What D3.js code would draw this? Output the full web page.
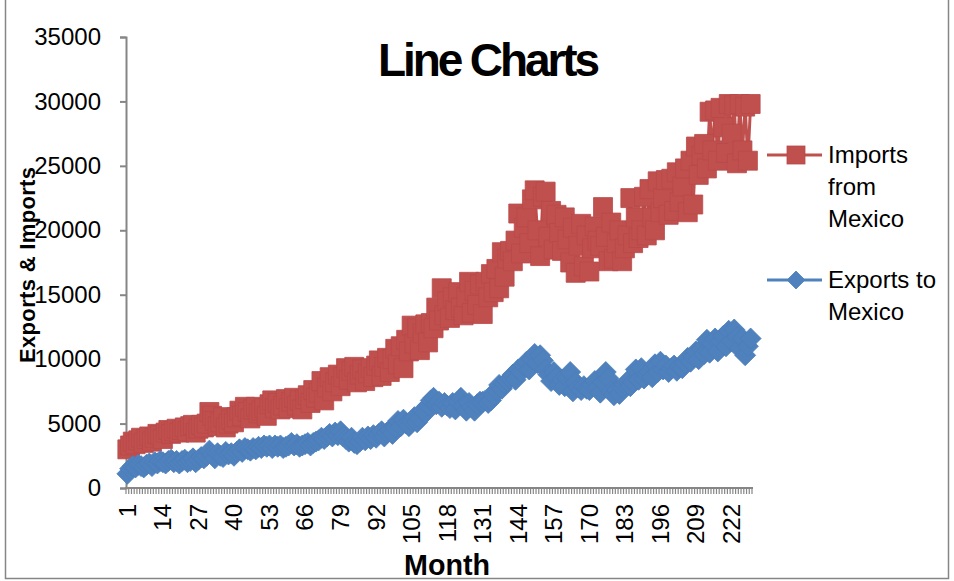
<!DOCTYPE html>
<html>
<head>
<meta charset="utf-8">
<script src="https://cdn.jsdelivr.net/npm/d3@7"></script>
<style>
  html, body { margin: 0; padding: 0; background: #fff; }
  svg { display: block; }
  text { font-family: "Liberation Sans", Arial, sans-serif; }
</style>
</head>
<body>
<svg id="chart" width="954" height="581"></svg>
<script>
// ---- Data ----
const seriesNames = ["Imports from Mexico", "Exports to Mexico"];

const imports = [
  3000, 3300, 3600, 3400, 3700, 3900, 3500, 3800, 4000, 3600,
  3900, 4200, 4100, 3800, 4300, 4500, 4200, 4400, 4600, 4300,
  4500, 4700, 4400, 4800, 4900, 4300, 4600, 4900, 4700, 5000,
  5900, 5600, 5200, 4800, 5100, 5500, 4700, 5000, 5300, 5100,
  5500, 6000, 5600, 6300, 5900, 5400, 6100, 6300, 5800, 6000,
  6200, 5600, 6500, 6800, 6200, 6600, 6100, 6400, 6900, 6200,
  6700, 7000, 6400, 6800, 6100, 6900, 7200, 6600, 7600, 7000,
  7400, 8300, 6800, 7800, 8600, 7500, 8200, 8800, 7900, 8600,
  9300, 8400, 9100, 9400, 8200, 8800, 9200, 8300, 8900, 9300,
  8600, 9500, 9900, 8700, 9400, 10100, 9000, 10000, 10800, 9600,
  11000, 9300, 11500, 10600, 12600, 11200, 12400, 10700, 12000, 12700,
  11300, 12800, 12400, 14000, 13000, 15500, 13400, 14500, 13200, 14800,
  13800, 15200, 14000, 13400, 14800, 16000, 13600, 15300, 14200, 15800,
  13500, 16000, 14800, 16600, 15200, 17000, 15500, 18300, 16400, 17800,
  18400, 17600, 19200, 21300, 18200, 20200, 21000, 19000, 22400, 23100,
  20000, 18000, 22600, 23000, 19500, 21500, 18500, 21200, 19800, 18400,
  21000, 19300, 17500, 20200, 16700, 18800, 20500, 17200, 19600, 16800,
  18600, 20300, 19200, 18800, 21800, 19500, 17600, 20600, 17800, 19000,
  20000, 17600, 18600, 19600, 22500, 19000, 21000, 19400, 20000, 22600,
  19600, 23200, 21000, 20000, 23800, 21400, 22500, 23900, 21200, 24000,
  21500, 24500, 22200, 23400, 24800, 21400, 25400, 22000, 26500, 24300,
  25800, 26700, 24800, 29200, 26200, 29300, 25400, 29500, 28000, 26000,
  29800, 27500, 29700, 25200, 29800, 26200, 29600, 25400, 29800
];

const exportsMx = [
  1100, 1500, 1700, 1600, 1800, 1700, 1600, 1800, 1900, 1700,
  2000, 1900, 2100, 2000, 1900, 2100, 2200, 2000, 2100, 1900,
  2100, 2200, 2000, 2100, 2300, 2000, 2200, 2400, 2300, 2500,
  2900, 2600, 2300, 2700, 2500, 2400, 2800, 2600, 2700, 2500,
  2800, 3000, 2800, 3100, 3000, 2900, 3100, 3000, 3200, 3100,
  3300, 3200, 3300, 3100, 3300, 3200, 3300, 3100, 3200, 3300,
  3500, 3300, 3400, 3200, 3300, 3400, 3500, 3300, 3500, 3600,
  3700, 3900, 3800, 4000, 4200, 4000, 4300, 4100, 4400, 4000,
  3800, 3600, 3900, 3500, 3400, 3600, 3900, 3700, 4000, 3800,
  4100, 3900, 4200, 4400, 4000, 4300, 4500, 4200, 4700, 5200,
  4800, 5300, 5000, 4800, 5200, 5500, 5100, 5400, 6000, 5800,
  6400, 6800, 7000, 6500, 6700, 6300, 6600, 6400, 6200, 6600,
  6100, 6700, 7000, 6400, 6000, 6600, 6300, 6000, 6500, 6700,
  6700, 6800, 6600, 6800, 7200, 7600, 8000, 7700, 8100, 8300,
  8500, 8800, 8400, 9200, 9000, 9500, 9800, 9200, 10000, 10400,
  9700, 10300, 9900, 9200, 8800, 8300, 9000, 8600, 8000, 8400,
  7900, 8500, 9000, 7500, 8200, 7800, 7600, 7900, 7700, 7600,
  8000, 8300, 7800, 7400, 8200, 9000, 8500, 7500, 7200, 7600,
  7300, 7800, 8000, 8300, 7900, 8200, 9200, 8400, 9300, 8500,
  8800, 9000, 8600, 9600, 9000, 9800, 9200, 9500, 9000, 9300,
  9500, 9100, 9400, 9300, 9700, 10100, 9800, 10200, 10600, 10000,
  10800, 10400, 11500, 10500, 11200, 11600, 10600, 11400, 11800, 11000,
  12200, 11400, 12300, 11700, 10800, 11600, 10300, 11000, 11600
];

const months = imports.map((_, i) => i + 1);
const xTickLabels = [1, 14, 27, 40, 53, 66, 79, 92, 105, 118, 131, 144, 157, 170, 183, 196, 209, 222];
const yTicks = [0, 5000, 10000, 15000, 20000, 25000, 30000, 35000];

// ---- Layout ----
const svg = d3.select("#chart");
const plot = { left: 126, right: 752, top: 37, bottom: 488 };
const axisColor = "#868686";
const red = "#C0504D", redEdge = "#B9494A";
const blue = "#4F81BD", blueEdge = "#4A7EBB";

// outer border
svg.append("rect")
  .attr("x", 5.5).attr("y", -2).attr("width", 943).attr("height", 580.5)
  .attr("fill", "none").attr("stroke", axisColor).attr("stroke-width", 1.5);

const x = d3.scaleBand().domain(months).range([plot.left, plot.right]).paddingInner(0).paddingOuter(0);
const bw = x.bandwidth();
const cx = m => x(m) + bw / 2;
const y = d3.scaleLinear().domain([0, 35000]).range([plot.bottom, plot.top]);

// Y axis
const yAxis = d3.axisLeft(y).tickValues(yTicks).tickSize(6).tickPadding(19).tickFormat(d3.format("d"));
const gy = svg.append("g").attr("transform", `translate(${plot.left},0)`).call(yAxis);
gy.select(".domain").attr("stroke", axisColor).attr("stroke-width", 2);
gy.selectAll(".tick line").attr("stroke", axisColor).attr("stroke-width", 2);
gy.selectAll(".tick text").attr("font-size", 24).attr("fill", "#000")
  .attr("font-family", "'Liberation Sans', Arial, sans-serif");

// X axis (category, ticks between categories)
const gx = svg.append("g");
gx.append("line").attr("x1", plot.left - 1).attr("x2", plot.right + 1)
  .attr("y1", plot.bottom).attr("y2", plot.bottom)
  .attr("stroke", axisColor).attr("stroke-width", 2);
const boundaries = months.map(m => x(m)).concat([x(months[months.length - 1]) + bw]);
gx.selectAll("line.tk").data(boundaries).join("line").attr("class", "tk")
  .attr("x1", d => d).attr("x2", d => d)
  .attr("y1", plot.bottom).attr("y2", plot.bottom + 6)
  .attr("stroke", axisColor).attr("stroke-width", 1.2);
gx.selectAll("text.xl").data(xTickLabels).join("text").attr("class", "xl")
  .attr("transform", d => `translate(${cx(d)},${plot.bottom + 16}) rotate(-90)`)
  .attr("text-anchor", "end").attr("dy", "0.35em")
  .attr("font-size", 24).attr("fill", "#000")
  .text(d => d);

// Series
const line = d3.line().x((d, i) => cx(months[i])).y(d => y(d));

function drawSeries(vals, color, edge, shape) {
  const g = svg.append("g");
  g.append("path").datum(vals).attr("d", line)
    .attr("fill", "none").attr("stroke", color).attr("stroke-width", 3)
    .attr("stroke-linejoin", "round");
  if (shape === "square") {
    const sym = d3.symbol().type(d3.symbolSquare).size(19 * 19);
    g.selectAll("path.mk").data(vals).join("path").attr("class", "mk")
      .attr("transform", (d, i) => `translate(${cx(months[i])},${y(d)})`)
      .attr("d", sym).attr("fill", color).attr("stroke", edge).attr("stroke-width", 0.8);
  } else {
    const h = 10.5;
    g.selectAll("path.mk").data(vals).join("path").attr("class", "mk")
      .attr("transform", (d, i) => `translate(${cx(months[i])},${y(d)})`)
      .attr("d", `M0,${-h}L${h},0L0,${h}L${-h},0Z`)
      .attr("fill", color).attr("stroke", edge).attr("stroke-width", 0.8);
  }
}
drawSeries(imports, red, redEdge, "square");
drawSeries(exportsMx, blue, blueEdge, "diamond");

// Title
svg.append("text").attr("x", 489).attr("y", 76).attr("text-anchor", "middle")
  .attr("font-size", 46).attr("font-weight", "bold").attr("fill", "#000")
  .attr("textLength", 222).attr("lengthAdjust", "spacing")
  .text("Line Charts");

// Axis titles
svg.append("text").attr("x", 447).attr("y", 575).attr("text-anchor", "middle")
  .attr("font-size", 29).attr("font-weight", "bold").attr("fill", "#000")
  .attr("textLength", 86).attr("lengthAdjust", "spacingAndGlyphs")
  .text("Month");
svg.append("text").attr("transform", "translate(35,265) rotate(-90)").attr("text-anchor", "middle")
  .attr("font-size", 22).attr("font-weight", "bold").attr("fill", "#000")
  .attr("textLength", 196).attr("lengthAdjust", "spacing")
  .text("Exports & Imports");

// Legend
const legend = svg.append("g");
const legendItems = [
  { lines: ["Imports", "from", "Mexico"], color: red, edge: redEdge, shape: "square", y: 155 },
  { lines: ["Exports to", "Mexico"], color: blue, edge: blueEdge, shape: "diamond", y: 280 }
];
legendItems.forEach(it => {
  legend.append("line").attr("x1", 767).attr("x2", 822).attr("y1", it.y).attr("y2", it.y)
    .attr("stroke", it.color).attr("stroke-width", 3);
  if (it.shape === "square") {
    legend.append("rect").attr("x", 787).attr("y", it.y - 9).attr("width", 18).attr("height", 18)
      .attr("fill", it.color).attr("stroke", it.edge).attr("stroke-width", 0.8);
  } else {
    const h = 9;
    legend.append("path").attr("transform", `translate(796,${it.y})`)
      .attr("d", `M0,${-h}L${h},0L0,${h}L${-h},0Z`)
      .attr("fill", it.color).attr("stroke", it.edge).attr("stroke-width", 0.8);
  }
  it.lines.forEach((t, k) => {
    legend.append("text").attr("x", 828).attr("y", it.y + 8 + k * 32)
      .attr("font-size", 24).attr("fill", "#000").text(t);
  });
});
</script>
</body>
</html>
